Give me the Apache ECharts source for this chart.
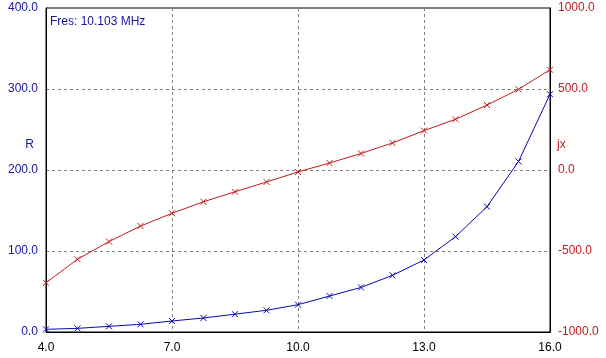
<!DOCTYPE html>
<html>
<head>
<meta charset="utf-8">
<script src="https://cdn.jsdelivr.net/npm/echarts@6/dist/echarts.min.js"></script>
<style>
html,body{margin:0;padding:0;background:#fff;}
#chart{width:606px;height:358px;}
</style>
</head>
<body>
<div id="chart"></div>
<script>
var freqs = [4.0, 4.75, 5.5, 6.25, 7.0, 7.75, 8.5, 9.25, 10.0, 10.75, 11.5, 12.25, 13.0, 13.75, 14.5, 15.25, 16.0];
var rValues = [3.3, 4.5, 7.0, 9.5, 13.6, 17.3, 22.0, 26.8, 33.7, 44.4, 55.0, 70.0, 88.9, 117.7, 154.7, 210.5, 293.5];
var jxValues = [-696, -551, -442, -346, -267, -196, -134, -74, -12, 43, 102, 167, 243, 313, 401, 498, 619];
var xTicks = [4.0, 7.0, 10.0, 13.0, 16.0];
var rTicks = [0, 100, 200, 300, 400];
var jxTicks = [-1000, -500, 0, 500, 1000];
var annotation = 'Fres: 10.103 MHz';
var leftName = 'R';
var rightName = 'jx';

var BLUE = '#1414a0';
var BLUE_LINE = '#0a0ab0';
var RED = '#c01c1c';
var FONT = '"Liberation Sans", Arial, sans-serif';
var crossSym = 'path://M0,0L10,10M10,0L0,10';

function pair(xs, ys) { return xs.map(function (x, i) { return [x, ys[i]]; }); }

var chart = echarts.init(document.getElementById('chart'), null, {renderer: 'canvas'});
chart.setOption({
  animation: false,
  backgroundColor: '#fff',
  grid: {left: 46, right: 56, top: 8, bottom: 26, show: true, borderColor: '#000', borderWidth: 1, backgroundColor: 'transparent'},
  xAxis: {
    type: 'value', min: xTicks[0], max: xTicks[xTicks.length - 1], interval: xTicks[1] - xTicks[0],
    axisLine: {show: true, lineStyle: {color: '#000', width: 1}},
    axisTick: {show: false},
    axisLabel: {color: '#000', fontFamily: FONT, fontSize: 12, margin: 10, formatter: function (v) { return v.toFixed(1); }},
    splitLine: {show: true, lineStyle: {color: '#808080', type: [3, 3], width: 1}}
  },
  yAxis: [{
    type: 'value', position: 'left', min: rTicks[0], max: rTicks[rTicks.length - 1], interval: rTicks[1] - rTicks[0],
    axisLine: {show: true, lineStyle: {color: '#000', width: 1}},
    axisTick: {show: false},
    axisLabel: {color: BLUE, fontFamily: FONT, fontSize: 12, margin: 8, formatter: function (v) { return v.toFixed(1); }},
    splitLine: {show: true, lineStyle: {color: '#808080', type: [3, 3], width: 1}}
  }, {
    type: 'value', position: 'right', min: jxTicks[0], max: jxTicks[jxTicks.length - 1], interval: jxTicks[1] - jxTicks[0],
    axisLine: {show: true, lineStyle: {color: '#000', width: 1}},
    axisTick: {show: false},
    axisLabel: {color: RED, fontFamily: FONT, fontSize: 12, margin: 8, formatter: function (v) { return v.toFixed(1); }},
    splitLine: {show: false}
  }],
  graphic: [
    {type: 'text', left: 50, top: 16, style: {text: annotation, fill: BLUE, font: '12px ' + FONT}},
    {type: 'text', right: 572, top: 139, style: {text: leftName, fill: BLUE, font: '12px ' + FONT}},
    {type: 'text', left: 557, top: 139, style: {text: rightName, fill: RED, font: '12px ' + FONT}}
  ],
  series: [{
    type: 'line', yAxisIndex: 1, data: pair(freqs, jxValues),
    symbol: crossSym, symbolSize: 6, showSymbol: true,
    lineStyle: {color: RED, width: 1},
    itemStyle: {color: RED, borderColor: RED, borderWidth: 1}
  }, {
    type: 'line', yAxisIndex: 0, data: pair(freqs, rValues),
    symbol: crossSym, symbolSize: 6, showSymbol: true,
    lineStyle: {color: BLUE_LINE, width: 1},
    itemStyle: {color: BLUE_LINE, borderColor: BLUE_LINE, borderWidth: 1}
  }]
});
</script>
</body>
</html>
